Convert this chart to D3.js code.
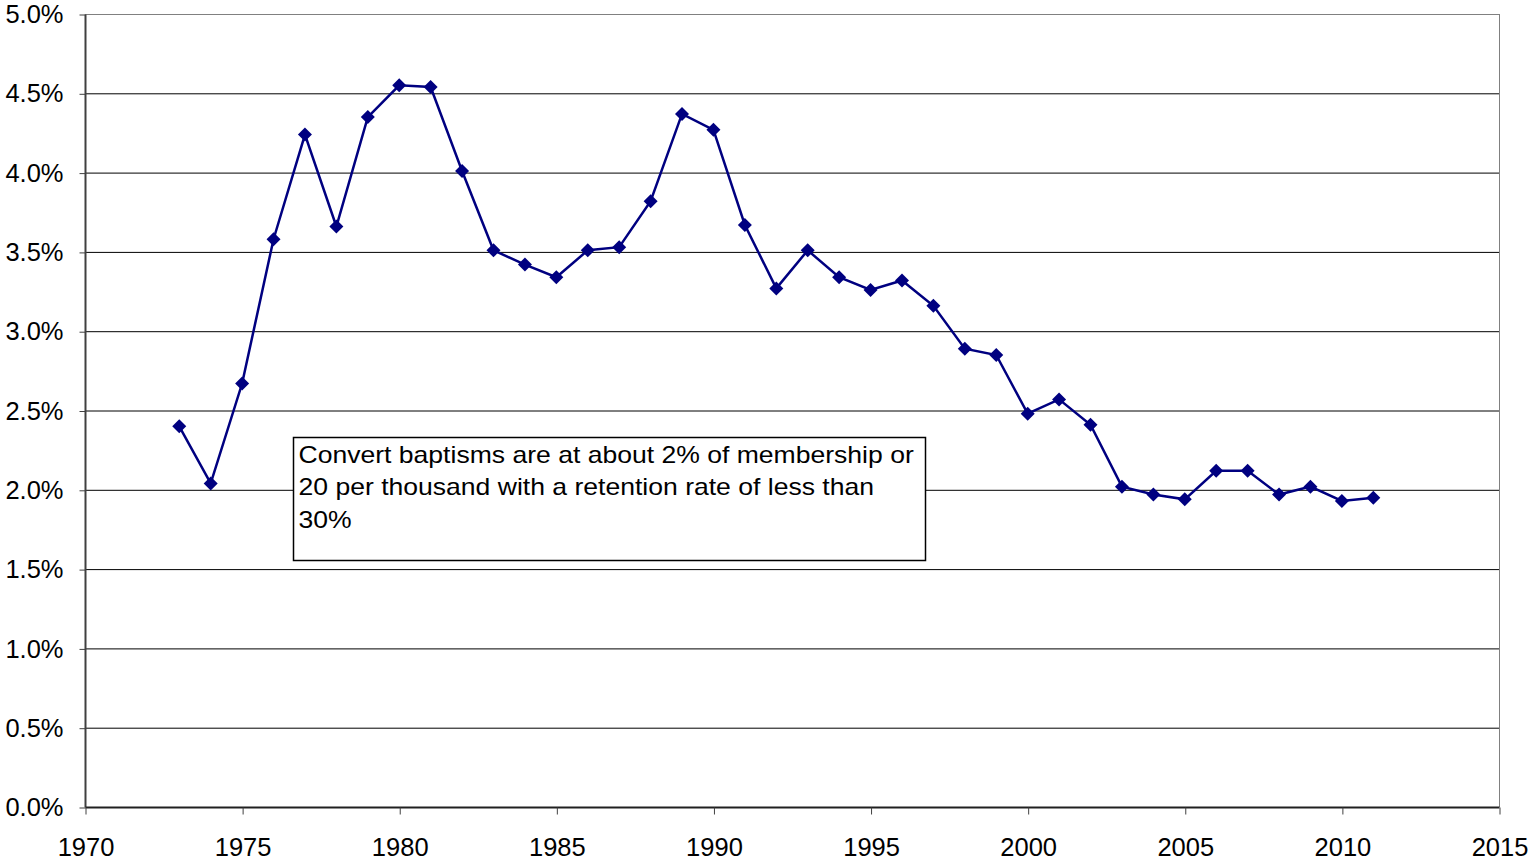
<!DOCTYPE html>
<html><head><meta charset="utf-8">
<script src="https://cdn.jsdelivr.net/npm/d3@7"></script>
<style>body{margin:0;background:#fff}svg{display:block;font-family:"Liberation Sans",Arial,sans-serif}</style>
</head><body><svg id="c" width="1533" height="866"></svg>
<script>
const years = [1973,1974,1975,1976,1977,1978,1979,1980,1981,1982,1983,1984,1985,1986,1987,1988,1989,1990,1991,1992,1993,1994,1995,1996,1997,1998,1999,2000,2001,2002,2003,2004,2005,2006,2007,2008,2009,2010,2011];
const rates = [2.40,2.04,2.67,3.58,4.24,3.66,4.35,4.55,4.54,4.01,3.51,3.42,3.34,3.51,3.53,3.82,4.37,4.27,3.67,3.27,3.51,3.34,3.26,3.32,3.16,2.89,2.85,2.48,2.57,2.41,2.02,1.97,1.94,2.12,2.12,1.97,2.02,1.93,1.95];
const xTicks = [1970,1975,1980,1985,1990,1995,2000,2005,2010,2015];
const yTicks = [0,0.5,1.0,1.5,2.0,2.5,3.0,3.5,4.0,4.5,5.0];
const noteLines = ["Convert baptisms are at about 2% of membership or","20 per thousand with a retention rate of less than","30%"];

const svg = d3.select("#c");
const L=85, R=1499, T=14, B=807;
const x = d3.scaleLinear().domain([1970,2015]).range([L,R]);
const y = d3.scaleLinear().domain([0,5]).range([B,T]);

// gridlines
svg.append("g").selectAll("line").data(yTicks.filter(d=>d>0)).join("line")
  .attr("x1",L).attr("x2",R).attr("y1",d=>y(d)+0.5).attr("y2",d=>y(d)+0.5)
  .attr("stroke",d=>d===5?"#808080":"#000").attr("stroke-width",1);
// right border
svg.append("line").attr("x1",R+0.5).attr("x2",R+0.5).attr("y1",T).attr("y2",B).attr("stroke","#808080");

// y axis
const ya = svg.append("g").attr("transform",`translate(${L+0.5},0.5)`)
  .call(d3.axisLeft(y).tickValues(yTicks).tickSize(6).tickPadding(16).tickFormat(d=>d.toFixed(1)+"%"));
ya.select(".domain").attr("stroke","#404040").attr("stroke-width",2).attr("d",`M0,${T}V${B}`);
ya.selectAll(".tick line").attr("stroke","#404040");
ya.selectAll("text").attr("font-size",25.5).attr("fill","#000").attr("font-family","Liberation Sans, Arial, sans-serif")
  .attr("x",-22);

// x axis
const xa = svg.append("g").attr("transform",`translate(0.5,${B+0.5})`)
  .call(d3.axisBottom(x).tickValues(xTicks).tickSize(7).tickPadding(23).tickFormat(d3.format("d")));
xa.select(".domain").attr("stroke","#202020").attr("stroke-width",2).attr("d",`M${L},0H${R}`);
xa.selectAll(".tick line").attr("stroke","#404040");
xa.selectAll("text").attr("font-size",25.5).attr("fill","#000").attr("font-family","Liberation Sans, Arial, sans-serif");

// line
svg.append("path").datum(years.map((yr,i)=>[yr,rates[i]]))
  .attr("fill","none").attr("stroke","#000080").attr("stroke-width",2.5)
  .attr("d",d3.line().x(d=>x(d[0])).y(d=>y(d[1])));
// markers
svg.append("g").selectAll("path").data(years.map((yr,i)=>[yr,rates[i]])).join("path")
  .attr("transform",d=>`translate(${x(d[0])},${y(d[1])})`)
  .attr("d","M0,-7L7,0L0,7L-7,0Z").attr("fill","#000080");

// annotation
const bx=293.5, by=437.5, bw=632, bh=123;
svg.append("rect").attr("x",bx).attr("y",by).attr("width",bw).attr("height",bh)
  .attr("fill","#fff").attr("stroke","#000").attr("stroke-width",1.5);
svg.append("g").selectAll("text").data(noteLines).join("text")
  .attr("transform",(d,i)=>`translate(${bx+5},${by+25+i*32.5}) scale(1.155,1)`)
  .attr("font-size",23).attr("fill","#000").text(d=>d);
</script></body></html>
